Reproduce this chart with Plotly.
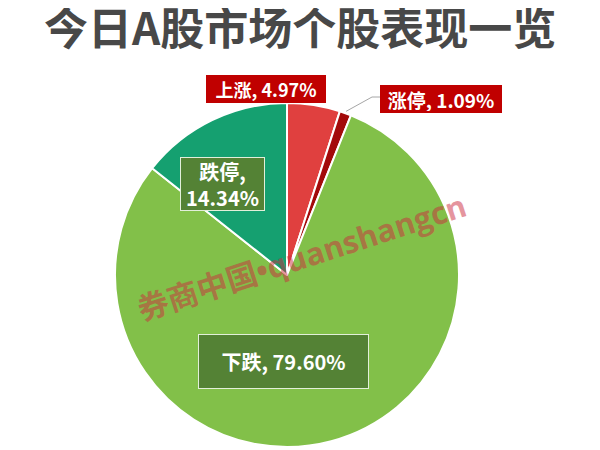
import math
import plotly.graph_objects as go

# ---- data ----
labels = ["上涨", "涨停", "下跌", "跌停"]
values = [4.97, 1.09, 79.60, 14.34]
slice_colors = ["#e0403f", "#a30a0a", "#82c049", "#15a070"]
title_text = "今日A股市场个股表现一览"
watermark = "券商中国•quanshangcn"

W, H = 600, 450
OFF = 8  # page body margin offset
cx, cy, R = 287 - OFF, 275 - OFF, 172  # pie center / radius in px (layout)

fig = go.Figure()
fig.add_trace(go.Pie(
    labels=labels, values=values, sort=False, direction="clockwise", rotation=0,
    marker=dict(colors=slice_colors, line=dict(color="white", width=2)),
    textinfo="none", hoverinfo="label+percent", showlegend=False,
    domain=dict(x=[(cx - R) / W, (cx + R) / W], y=[1 - (cy + R) / H, 1 - (cy - R) / H]),
))

def px2paper(x, y):
    return (x - OFF) / W, 1 - (y - OFF) / H

font_family = "Noto Sans CJK SC"
label_texts = [f"{l}, {v:.2f}%" for l, v in zip(labels, values)]
label_texts[3] = f"{labels[3]},<br>{values[3]:.2f}%"

# label boxes: (center px in screenshot, size px, bg, border, font size)
boxes = [
    ((266, 89), (120, 28), "#c00000", "#c00000", 18),
    ((441, 99), (122, 28), "#c00000", "#c00000", 19),
    ((283, 361), (171, 55), "#548235", "#e2efda", 20),
    ((222, 184), (85, 54), "#548235", "#e2efda", 20),
]
for txt, (c, s, bg, bc, fs) in zip(label_texts, boxes):
    x, y = px2paper(*c)
    fig.add_annotation(x=x, y=y, xref="paper", yref="paper", xanchor="center", yanchor="middle",
                       text=f"<b>{txt}</b>",
                       showarrow=False, width=s[0] - 4, height=s[1] - 4, align="center", valign="middle",
                       bgcolor=bg, bordercolor=bc, borderwidth=1, borderpad=1,
                       font=dict(family=font_family, size=fs, color="white"))

# leader line for 涨停 from slice mid-angle
cum = values[0] + values[1] / 2
theta = cum / sum(values) * 2 * math.pi
sx, sy = cx + (R + 2) * math.sin(theta), cy - (R + 2) * math.cos(theta)
ex, ey = 372 - OFF, 97 - OFF
bx = 380 - OFF
fig.add_shape(type="path", xref="paper", yref="paper",
              path=f"M {sx/W},{1-sy/H} L {ex/W},{1-ey/H} L {bx/W},{1-ey/H}",
              line=dict(color="#a6a6a6", width=1))

# title
tx, ty = px2paper(300, 26)
fig.add_annotation(x=tx, y=ty, xref="paper", yref="paper", xanchor="center", yanchor="middle",
                   text=f"<b>{title_text}</b>",
                   showarrow=False, font=dict(family=font_family, size=44, color="#484848"))

# watermark
wx, wy = px2paper(301, 257)
fig.add_annotation(x=wx, y=wy, xref="paper", yref="paper", xanchor="center", yanchor="middle",
                   text=f"<b>{watermark}</b>",
                   showarrow=False, textangle=-18,
                   font=dict(family="Open Sans, Noto Sans CJK SC", size=31, color="rgba(204,44,62,0.5)"))

fig.update_layout(width=W, height=H, margin=dict(l=0, r=0, t=0, b=0),
                  paper_bgcolor="white", plot_bgcolor="white")
fig.write_html("out.html")
